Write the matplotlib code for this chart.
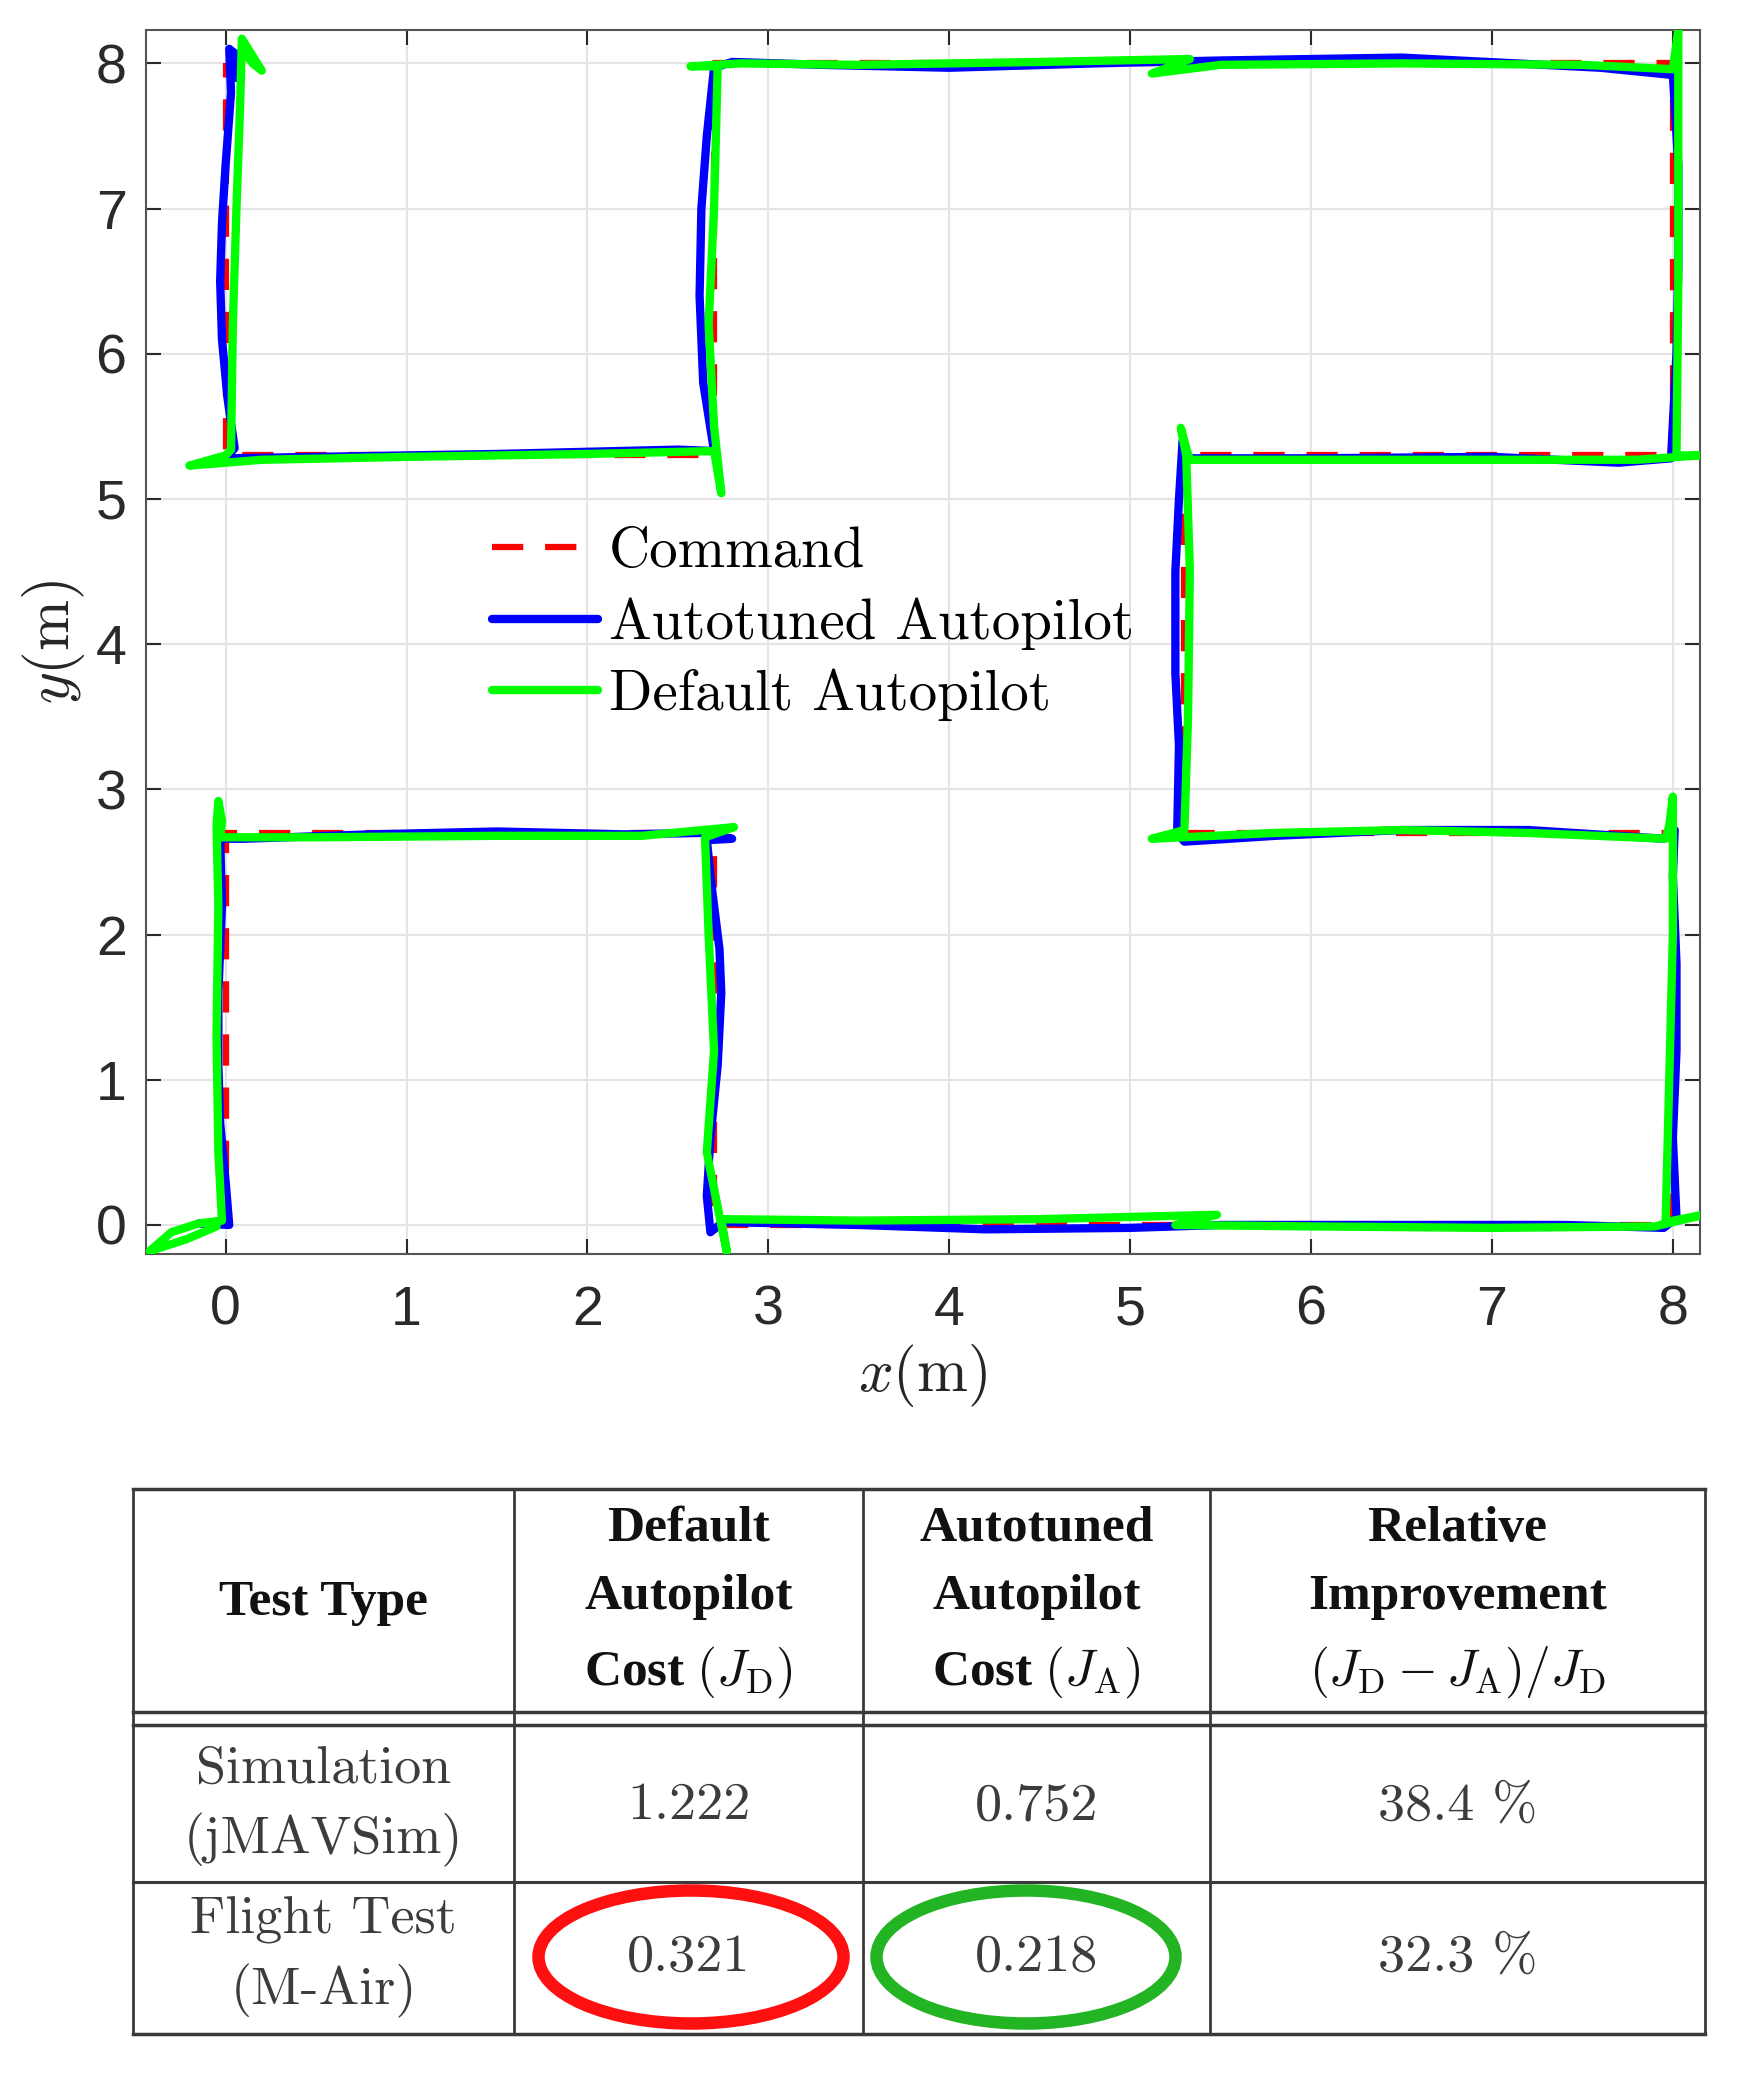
import numpy as np
import matplotlib.pyplot as plt
from matplotlib.patches import Ellipse

plt.rcParams['mathtext.fontset'] = 'cm'
plt.rcParams['axes.unicode_minus'] = False

# command path (m)
cmd_x = [0, 0, 2.7, 2.7, 8, 8, 5.3, 5.3, 8, 8, 2.7, 2.7, 0, 0]
cmd_y = [0, 2.7, 2.7, 0, 0, 2.7, 2.7, 5.3, 5.3, 8, 8, 5.3, 5.3, 8]

# autotuned autopilot trajectory
auto_x = [-0.15, 0.02, 0.0, -0.03, -0.04, -0.04, -0.02, -0.03, 0.1, 0.8, 1.5, 2.2, 2.63, 2.8,
          2.66, 2.69, 2.73, 2.74, 2.72, 2.68, 2.66, 2.68, 2.75, 3.5, 4.2, 5.0, 5.5, 6.5,
          7.4, 7.95, 8.02, 8.0, 8.02, 8.02, 8.0, 8.01, 7.95, 7.2, 6.5, 5.8, 5.3, 5.26,
          5.27, 5.25, 5.25, 5.27, 5.29, 5.32, 6.0, 7.0, 7.7, 7.99, 8.02, 8.03, 8.03, 8.0,
          7.6, 6.5, 5.5, 4.8, 4.0, 3.3, 2.8, 2.7, 2.66, 2.63, 2.62, 2.64, 2.7, 2.5, 1.5,
          0.5, 0.0, 0.05, 0.01, -0.02, -0.03, -0.02, 0.0, 0.03, 0.02, 0.07, 0.06, 0.03]
auto_y = [0.01, 0.0, 0.3, 0.7, 1.1, 1.6, 2.2, 2.66, 2.66, 2.69, 2.71, 2.69, 2.7, 2.66,
          2.65, 2.3, 1.9, 1.6, 1.1, 0.6, 0.2, -0.05, 0.02, 0.0, -0.03, -0.02, 0.0, 0.0,
          0.0, -0.02, 0.05, 0.6, 1.2, 1.8, 2.4, 2.72, 2.66, 2.72, 2.72, 2.68, 2.64, 2.7,
          3.3, 3.8, 4.5, 5.0, 5.4, 5.28, 5.28, 5.29, 5.25, 5.28, 6.0, 6.6, 7.3, 7.92, 7.97,
          8.04, 8.02, 8.0, 7.97, 7.99, 8.01, 7.97, 7.5, 7.0, 6.4, 5.8, 5.33, 5.34, 5.31,
          5.29, 5.28, 5.35, 5.7, 6.1, 6.5, 6.9, 7.3, 7.8, 8.1, 8.05, 7.9, 7.95]

# default autopilot trajectory
def_x = [-0.05, -0.22, -0.42, -0.3, -0.15, -0.02, -0.04, -0.05, -0.04, -0.05, -0.04, -0.02,
         -0.03, 0.5, 1.5, 2.3, 2.81, 2.65, 2.67, 2.7, 2.66, 2.74, 2.77, 2.74, 3.5, 4.5,
         5.48, 5.25, 6.0, 7.0, 7.9, 8.17, 7.96, 7.98, 8.0, 8.0, 8.0, 7.98, 7.96, 7.2, 6.5,
         5.8, 5.12, 5.3, 5.32, 5.33, 5.31, 5.28, 5.31, 5.33, 6.0, 7.0, 7.8, 8.15, 8.02,
         8.03, 8.03, 8.03, 8.0, 7.5, 6.5, 5.5, 5.12, 5.33, 4.5, 3.5, 2.85, 2.57, 2.72,
         2.7, 2.67, 2.7, 2.74, 2.7, 2.0, 1.0, 0.2, -0.2, 0.0, 0.03, 0.04, 0.06, 0.08,
         0.09, 0.2, 0.15, 0.09]
def_y = [-0.01, -0.1, -0.18, -0.05, 0.01, 0.03, 0.5, 1.3, 2.2, 2.75, 2.92, 2.78, 2.67,
         2.67, 2.68, 2.68, 2.74, 2.67, 2.0, 1.2, 0.5, 0.0, -0.18, 0.04, 0.03, 0.04, 0.07,
         0.0, -0.01, -0.02, -0.01, 0.07, 0.02, 1.0, 2.0, 2.75, 2.95, 2.75, 2.66, 2.7, 2.72,
         2.7, 2.66, 2.72, 3.5, 4.5, 5.3, 5.49, 5.35, 5.27, 5.27, 5.27, 5.27, 5.3, 5.3, 6.5,
         7.6, 8.23, 7.96, 7.99, 8.0, 7.99, 7.93, 8.03, 8.01, 7.99, 8.0, 7.98, 7.98, 7.0,
         6.2, 5.5, 5.04, 5.33, 5.31, 5.29, 5.27, 5.23, 5.3, 5.34, 6.2, 7.0, 7.7, 8.17,
         7.95, 8.0, 8.1]

xticks = [0, 1, 2, 3, 4, 5, 6, 7, 8]
yticks = [0, 1, 2, 3, 4, 5, 6, 7, 8]

# table contents
col_heads = ['Test Type',
             'Default\nAutopilot\nCost $(J_{\\mathrm{D}})$',
             'Autotuned\nAutopilot\nCost $(J_{\\mathrm{A}})$',
             'Relative\nImprovement\n$(J_{\\mathrm{D}}-J_{\\mathrm{A}})/J_{\\mathrm{D}}$']
row_names = ['Simulation\n(jMAVSim)', 'Flight Test\n(M-Air)']
cost_default = ['1.222', '0.321']
cost_auto = ['0.752', '0.218']
improvement = ['38.4 %', '32.3 %']

W, H = 1752, 2082
fig = plt.figure(figsize=(W / 100, H / 100), dpi=100)

ax = fig.add_axes([146 / W, 1 - 1254 / H, (1700 - 146) / W, (1254 - 30) / H])
ax.plot(cmd_x, cmd_y, color='#ff0000', lw=4.5, dashes=(5, 3.5), label='Command', zorder=3)
ax.plot(auto_x, auto_y, color='#0000ff', lw=6, solid_capstyle='round',
        solid_joinstyle='round', label='Autotuned Autopilot', zorder=4)
ax.plot(def_x, def_y, color='#00ff00', lw=6, solid_capstyle='round',
        solid_joinstyle='round', label='Default Autopilot', zorder=5)

ax.set_xlim(-0.44, 8.15)
ax.set_ylim(-0.2, 8.23)
ax.set_xticks(xticks)
ax.set_yticks(yticks)
ax.grid(True, color='#e4e4e4', lw=1.5)
ax.set_axisbelow(True)
ax.tick_params(direction='in', length=11, width=1.5, top=True, right=True,
               labelsize=40, colors='#2a2a2a')
ax.tick_params(axis='x', pad=22)
ax.tick_params(axis='y', pad=14)
for lab in ax.get_xticklabels() + ax.get_yticklabels():
    lab.set_family('Liberation Sans')
for s in ax.spines.values():
    s.set_color('#555555')
    s.set_linewidth(1.5)

ax.set_xlabel(r'$x(\mathrm{m})$', fontsize=44, color='#262626', labelpad=4)
ax.set_ylabel(r'$y(\mathrm{m})$', fontsize=44, color='#262626', labelpad=6)

ax.legend(loc='upper left', bbox_to_anchor=(0.2045, 0.617), frameon=False,
          prop={'family': 'cmr10', 'size': 41}, handlelength=1.85,
          handletextpad=0.2, labelspacing=0.33, borderpad=0)

# table below the plot, drawn in pixel coordinates
tx = fig.add_axes([0, 0, 1, 1], zorder=-1)
tx.set_xlim(0, W)
tx.set_ylim(H, 0)
tx.axis('off')

left, right, top, bottom = 133, 1705, 1489, 2034
col_edges = [left, 514, 863, 1210, right]
lc = '#3a3a3a'
tx.plot([left, right], [top, top], color=lc, lw=2.5)
tx.plot([left, right], [bottom, bottom], color=lc, lw=2.5)
tx.plot([left, right], [1712, 1712], color=lc, lw=2.5)
tx.plot([left, right], [1725, 1725], color=lc, lw=2.5)
tx.plot([left, right], [1882, 1882], color=lc, lw=2.2)
for xe in col_edges:
    tx.plot([xe, xe], [top, bottom], color=lc, lw=2)

centers = [(col_edges[i] + col_edges[i + 1]) / 2 for i in range(4)]
for cx, head in zip(centers, col_heads):
    tx.text(cx, 1603, head, ha='center', va='center', fontsize=37, fontweight='bold',
            family='Liberation Serif', linespacing=1.62, color='#111111')

row_y = [1806, 1957]
for i, ry in enumerate(row_y):
    vals = [row_names[i], cost_default[i], cost_auto[i], improvement[i]]
    for cx, v in zip(centers, vals):
        tx.text(cx, ry, v, ha='center', va='center', fontsize=39, family='cmr10',
                linespacing=1.5, color='#3c3c3c')

tx.add_patch(Ellipse((691, 1957), 305, 133, fill=False, ec='#ff1010', lw=9))
tx.add_patch(Ellipse((1026, 1957), 299, 133, fill=False, ec='#22b422', lw=9))

fig.savefig('out.png', dpi=100)
